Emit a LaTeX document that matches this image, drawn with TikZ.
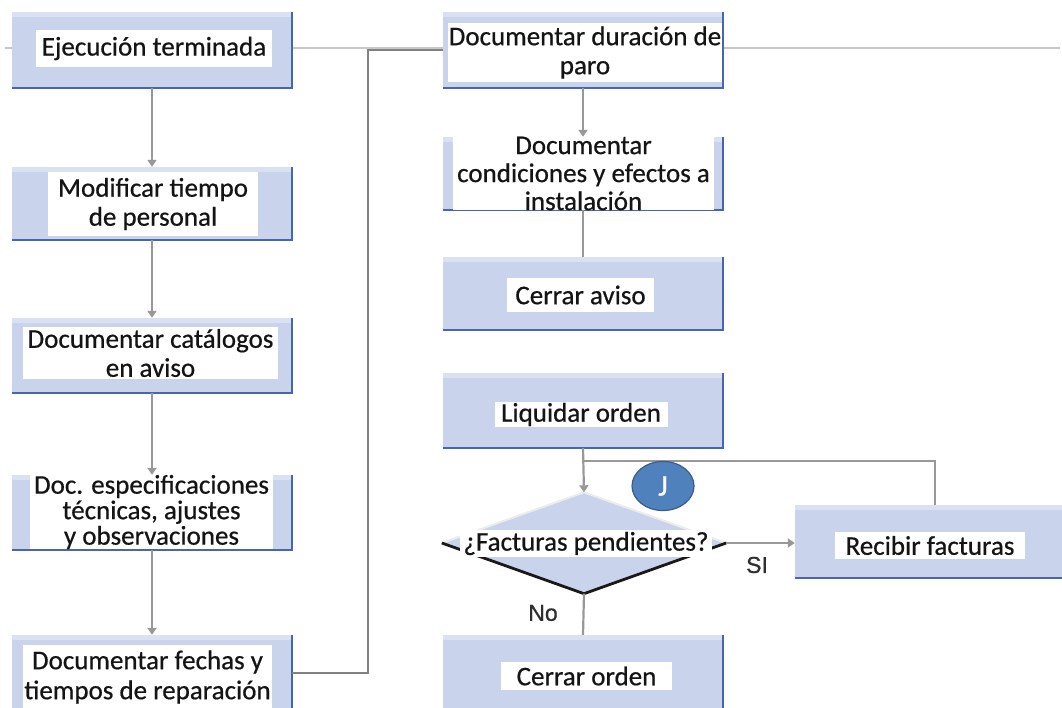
\documentclass[tikz,border=0pt]{standalone}
\usepackage{fontspec}
\setmainfont{Carlito}[RawFeature={embolden=0.6}]
\newfontfamily\labfont{Liberation Sans}[RawFeature={embolden=0.8}]
\usetikzlibrary{arrows.meta,shapes.geometric,calc}
\definecolor{boxfill}{RGB}{201,211,235}
\definecolor{boxtopc}{RGB}{218,225,242}
\definecolor{edgeblue}{RGB}{72,102,170}
\definecolor{conngray}{RGB}{152,152,152}
\definecolor{conndark}{RGB}{130,130,130}
\definecolor{lightline}{RGB}{200,200,200}
\definecolor{jblue}{RGB}{79,129,189}
\definecolor{jedge}{RGB}{56,93,138}
\newcommand\boxedge[1]{\fill[boxtopc] (#1.north west) rectangle ($(#1.north east)+(0,5)$);
  \draw[edgeline] (#1.north east) -- (#1.south east) -- (#1.south west);}
\begin{document}
\begin{tikzpicture}[x=1pt,y=-1pt,
  box/.style={fill=boxfill, draw=none, minimum width=280pt, inner sep=0pt},
  edgeline/.style={draw=edgeblue, line width=2.5pt},
  txt/.style={fill=white, inner sep=0pt, align=center, font=\fontsize{27}{29}\selectfont, text=black!92},
  conn/.style={draw=conngray, line width=2.2pt},
  arr/.style={conn, -{Triangle[width=9pt,length=7pt]}},
  lab/.style={font=\labfont\fontsize{23}{23}\selectfont, text=black!82}
]
\useasboundingbox (0,0) rectangle (1062,708);
\coordinate (L) at (5,48);
\coordinate (R) at (1060,48);
\draw[draw=lightline, line width=2pt] (L) -- (R);

% left column
\node[box, minimum height=76pt] (b1) at (152,50) {};
\boxedge{b1}
\node[txt, minimum width=236pt, minimum height=37pt] (t1) at (154,48.5) {Ejecución terminada};

\node[box, minimum height=73pt] (b2) at (152,203.5) {};
\boxedge{b2}
\node[txt, minimum width=210pt, minimum height=64pt] (t2) at (153,204) {Modificar tiempo\\de personal};

\node[box, minimum height=75pt] (b3) at (152,355.5) {};
\boxedge{b3}
\node[txt, minimum width=255pt, minimum height=52pt] (t3) at (150.5,353) {Documentar catálogos\\en aviso};

\node[box, minimum height=75pt] (b4) at (152,512.5) {};
\boxedge{b4}
\node[txt, minimum width=243pt, minimum height=72pt, font=\fontsize{27}{25.5}\selectfont] (t4) at (151.5,512) {Doc. especificaciones\\técnicas, ajustes\\y observaciones};

\node[box, minimum height=76pt] (b5) at (152,673) {};
\boxedge{b5}
\node[txt, minimum width=249pt, minimum height=64pt, font=\fontsize{27}{30}\selectfont] (t5) at (147.5,677) {Documentar fechas y\\tiempos de reparación};

% right column
\node[box, minimum height=76pt] (b6) at (583,50) {};
\boxedge{b6}
\node[txt, minimum width=274pt, minimum height=59pt] (t6) at (585,52.5) {Documentar duración de\\paro};

\node[box, minimum height=73pt] (b7) at (583,173.5) {};
\boxedge{b7}
\node[txt, minimum width=261pt, minimum height=73pt, font=\fontsize{27}{28}\selectfont] (t7) at (583.5,173.5) {Documentar\\condiciones y efectos a\\instalación};

\node[box, minimum height=73pt] (b8) at (583,293.5) {};
\boxedge{b8}
\node[txt, minimum width=147pt, minimum height=34pt] (t8) at (580.5,295) {Cerrar aviso};

\node[box, minimum height=75pt] (b9) at (583,410.5) {};
\boxedge{b9}
\node[txt, minimum width=173pt, minimum height=25pt] (t9) at (581,414.5) {Liquidar orden};

\node[box, minimum height=73pt] (b11) at (935,541.5) {};
\boxedge{b11}
\node[txt, minimum width=190pt, minimum height=27pt] (t11) at (930,545.5) {Recibir facturas};

\node[box, minimum height=76pt] (b12) at (583,673) {};
\boxedge{b12}
\node[txt, minimum width=171pt, minimum height=28pt] (t12) at (586.5,676) {Cerrar orden};

% decision
\node[diamond, fill=boxfill, minimum width=284pt, minimum height=101pt, inner sep=0pt, aspect=2.8] (d) at (584,543) {};
\draw[white!85!gray, line width=2pt] (d.west) -- (d.north) -- (d.east);
\draw[black!90, line width=2.8pt] (d.west) -- (d.south) -- (d.east);
\node[txt, minimum width=252pt, minimum height=27pt] (t10) at (586,543.5) {¿Facturas pendientes?};

% connectors
\draw[arr] (b1.south) -- (b2.north);
\draw[arr] (b2.south) -- (b3.north);
\draw[arr] (b3.south) -- (b4.north);
\draw[arr] (b4.south) -- (b5.north);
\draw[conn, draw=conndark] (b5.east) -| ($(b6.west)+(-75,0)$) -- (b6.west);
\draw[arr] (b6.south) -- (b7.north);
\draw[conn] (b7.south) -- (b8.north);
\draw[arr] (b9.south) -- (d.north);
\coordinate (jn) at ($(b9.south)+(0,13)$);
\draw[conn] (b11.north) |- (jn);
\draw[arr] (d.east) -- (d.east -| b11.west);
\draw[conn] (d.south) -- (b12.north);

\node[lab] (si) at (757,565) {SI};
\node[lab] (no) at (543,613) {No};

\node[ellipse, fill=jblue, draw=jedge, line width=1.2pt, minimum width=62pt, minimum height=49pt, inner sep=0pt, text=white, font=\fontsize{30}{30}\selectfont] (J) at (663,486) {J};
\end{tikzpicture}
\end{document}
